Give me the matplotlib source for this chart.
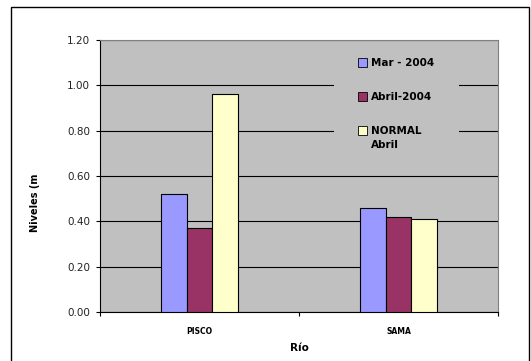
import matplotlib
matplotlib.use("Agg")
import matplotlib.pyplot as plt
from matplotlib.patches import Rectangle
import numpy as np

# Data
rivers = ["PISCO", "SAMA"]
series_names = ["Mar - 2004", "Abril-2004", "NORMAL\nAbril"]
mar_2004 = [0.52, 0.46]
abril_2004 = [0.37, 0.42]
normal_abril = [0.96, 0.41]
series_values = [mar_2004, abril_2004, normal_abril]
series_colors = ["#9999FF", "#993366", "#FFFFCC"]
y_ticks = [0.0, 0.2, 0.4, 0.6, 0.8, 1.0, 1.2]

plt.rcParams["font.family"] = ["DejaVu Sans"]

W, H = 531, 361
fig = plt.figure(figsize=(W / 100, H / 100), dpi=100)
fig.patch.set_facecolor("white")

# plot area in pixel geometry
left, right, top, bottom = 100, 498, 40, 312
ax = fig.add_axes([left / W, (H - bottom) / H, (right - left) / W, (bottom - top) / H])
ax.set_facecolor("#C0C0C0")

x = np.arange(len(rivers))
bw = 0.128
for i, (vals, col) in enumerate(zip(series_values, series_colors)):
    ax.bar(x + (i - 1) * bw, vals, width=bw, color=col, edgecolor="black",
           linewidth=0.8, zorder=3)

ax.set_xlim(-0.5, len(rivers) - 0.5)
ax.set_ylim(0, 1.2)
ax.set_yticks(y_ticks)
ax.set_yticklabels([f"{v:.2f}" for v in y_ticks], fontsize=7.5, color="#222222")
ax.yaxis.grid(True, color="black", linewidth=0.8, zorder=1)
ax.set_axisbelow(True)

ax.set_xticks(x)
ax.set_xticklabels(rivers, fontsize=5.5, fontweight="bold")
ax.tick_params(axis="x", which="major", length=0, pad=11)
ax.set_xticks(np.arange(-0.5, len(rivers), 1.0), minor=True)
ax.tick_params(axis="x", which="minor", length=3, width=0.8, color="black", direction="out")
ax.tick_params(axis="y", length=3, width=0.8, color="black", pad=4)

for s in ("top", "right"):
    ax.spines[s].set_color("#808080")
    ax.spines[s].set_linewidth(0.8)
for s in ("left", "bottom"):
    ax.spines[s].set_color("black")
    ax.spines[s].set_linewidth(0.8)

ax.set_xlabel("Río", fontsize=7.5, fontweight="bold")
ax.xaxis.set_label_coords(0.5, -0.131)
ax.xaxis.label.set_va("center")
ax.set_ylabel("Niveles (m", fontsize=7, fontweight="bold")
ax.yaxis.set_label_coords(-0.163, 0.40)
ax.yaxis.label.set_va("center")

# legend box drawn inside the plot area
ax.add_patch(Rectangle((0.588, 0.55), 0.314, 0.42, transform=ax.transAxes,
                       facecolor="#C0C0C0", edgecolor="none", zorder=2))
entry_y = [0.9166, 0.7915, 0.6665]
for name, col, yy in zip(series_names, series_colors, entry_y):
    ax.add_patch(Rectangle((0.647, yy - 0.0165), 0.0226, 0.033, transform=ax.transAxes,
                           facecolor=col, edgecolor="black", linewidth=0.6, zorder=4))
    lines = name.split("\n")
    ax.text(0.681, yy, lines[0], transform=ax.transAxes, fontsize=7.5,
            fontweight="bold", va="center", ha="left", zorder=4)
    for k, extra in enumerate(lines[1:], start=1):
        ax.text(0.681, yy - 0.0515 * k, extra, transform=ax.transAxes, fontsize=7.5,
                fontweight="bold", va="center", ha="left", zorder=4)

# outer chart frame
fig.patches.append(Rectangle((11 / W, -0.05), 518 / W, (H - 6.5) / H + 0.05,
                             transform=fig.transFigure, facecolor="none",
                             edgecolor="black", linewidth=1.0))

fig.savefig("out.png", dpi=100)
